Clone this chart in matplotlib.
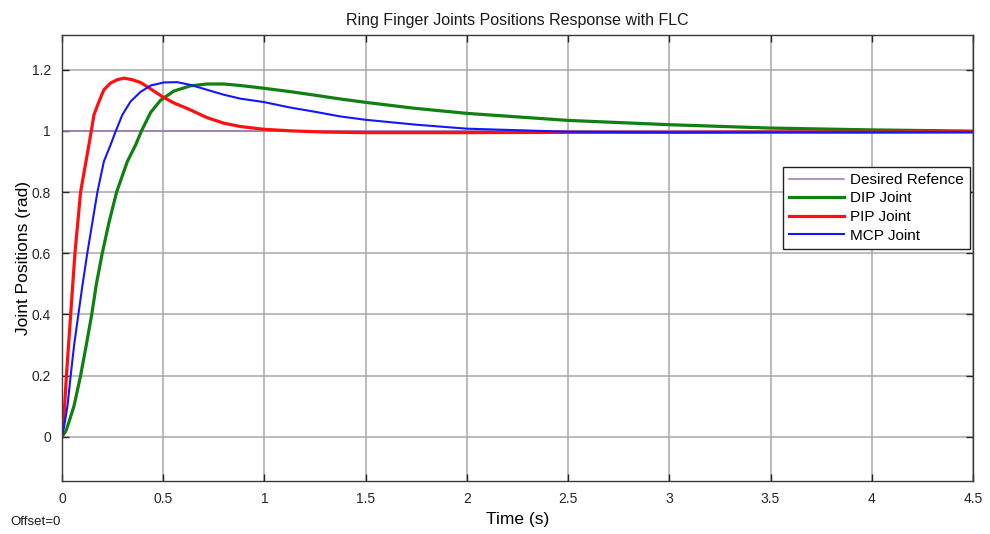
import numpy as np
import matplotlib.pyplot as plt

plt.rcParams['font.family'] = ['Liberation Sans', 'DejaVu Sans']

# ========== Data ==========
t_ref = [0.0, 4.5]
v_ref = [1.0, 1.0]

t_dip = [0, 0.02, 0.035, 0.059, 0.092, 0.120, 0.147, 0.170, 0.199, 0.232, 0.270,
         0.323, 0.364, 0.393, 0.438, 0.487, 0.553, 0.635, 0.717, 0.799, 0.882, 0.997,
         1.128, 1.243, 1.375, 1.5, 1.737, 2.0, 2.5, 3.0, 3.5, 4.0, 4.5]
v_dip = [0, 0.02, 0.05, 0.1, 0.2, 0.3, 0.4, 0.5, 0.6, 0.7, 0.8,
         0.9, 0.954, 1.0, 1.06, 1.1, 1.13, 1.147, 1.153, 1.153, 1.148, 1.139,
         1.128, 1.117, 1.104, 1.093, 1.074, 1.057, 1.034, 1.020, 1.009, 1.003, 0.999]

t_pip = [0, 0.006, 0.013, 0.022, 0.043, 0.064, 0.092, 0.117, 0.145, 0.158, 0.183,
         0.207, 0.240, 0.273, 0.306, 0.347, 0.388, 0.438, 0.495, 0.553, 0.619, 0.668,
         0.717, 0.799, 0.882, 0.997, 1.128, 1.293, 1.5, 2.0, 2.5, 3.0, 3.5, 4.0, 4.5]
v_pip = [0, 0.04, 0.1, 0.2, 0.4, 0.6, 0.8, 0.894, 1.0, 1.052, 1.096,
         1.134, 1.156, 1.167, 1.172, 1.167, 1.158, 1.137, 1.112, 1.091, 1.073, 1.058,
         1.043, 1.025, 1.014, 1.005, 1.0, 0.996, 0.994, 0.994, 0.995, 0.995, 0.996, 0.996, 0.997]

t_mcp = [0, 0.012, 0.027, 0.043, 0.06, 0.081, 0.1, 0.125, 0.15, 0.175, 0.207, 0.240,
         0.265, 0.298, 0.339, 0.388, 0.438, 0.503, 0.569, 0.635, 0.717, 0.799, 0.882,
         0.997, 1.128, 1.243, 1.375, 1.5, 1.75, 2.0, 2.5, 3.0, 3.5, 4.0, 4.5]
v_mcp = [0, 0.04, 0.1, 0.2, 0.3, 0.4, 0.49, 0.6, 0.7, 0.8, 0.9, 0.954,
         0.998, 1.052, 1.096, 1.127, 1.148, 1.158, 1.159, 1.150, 1.134, 1.118, 1.105,
         1.094, 1.076, 1.063, 1.047, 1.036, 1.02, 1.007, 0.997, 0.995, 0.995, 0.995, 0.995]

x_ticks = [0, 0.5, 1, 1.5, 2, 2.5, 3, 3.5, 4, 4.5]
x_labels = ["0", "0.5", "1", "1.5", "2", "2.5", "3", "3.5", "4", "4.5"]
y_ticks = [0, 0.2, 0.4, 0.6, 0.8, 1.0, 1.2]
y_labels = ["0", "0.2", "0.4", "0.6", "0.8", "1", "1.2"]

# ========== Plot ==========
fig = plt.figure(figsize=(9.9, 5.34), dpi=100)
ax = fig.add_axes([0.0626, 0.0993, 0.9202, 0.8357])

ax.plot(t_ref, v_ref, color="#9e72b8", linewidth=1.1, label="Desired Refence")
ax.plot(t_dip, v_dip, color="#108010", linewidth=2.3, label="DIP Joint")
ax.plot(t_pip, v_pip, color="#ff1010", linewidth=2.3, label="PIP Joint")
ax.plot(t_mcp, v_mcp, color="#1515ff", linewidth=1.5, label="MCP Joint")

ax.set_xlim(0, 4.5)
ax.set_ylim(-0.144, 1.314)
ax.set_xticks(x_ticks)
ax.set_xticklabels(x_labels)
ax.set_yticks(y_ticks)
ax.set_yticklabels(y_labels)
ax.tick_params(direction="in", top=True, right=True, length=5, width=1,
               colors="#262626", labelsize=10, pad=8)
ax.grid(True, color="#a8a8a8", linewidth=1.1)
ax.set_axisbelow(True)
for s in ax.spines.values():
    s.set_color("#3a3a3a")
    s.set_linewidth(1.0)

ax.set_title("Ring Finger Joints Positions Response with FLC", fontsize=11.5,
             color="#1a1a1a", pad=7)
ax.set_xlabel("Time (s)", fontsize=12.5, labelpad=4)
ax.set_ylabel("Joint Positions (rad)", fontsize=12.5, labelpad=0)

leg = ax.legend(loc="upper right", bbox_to_anchor=(0.997, 0.704), fontsize=11,
                handlelength=3.6, handletextpad=0.4, fancybox=False, framealpha=1,
                edgecolor="#222222", borderpad=0.4, labelspacing=0.3, borderaxespad=0)
leg.get_frame().set_linewidth(1.0)

fig.text(10 / 990, 1 - 522 / 534, "Offset=0", fontsize=9.5, va="center", ha="left",
         color="#1a1a1a")

plt.savefig("out.png", dpi=100)
plt.close()
